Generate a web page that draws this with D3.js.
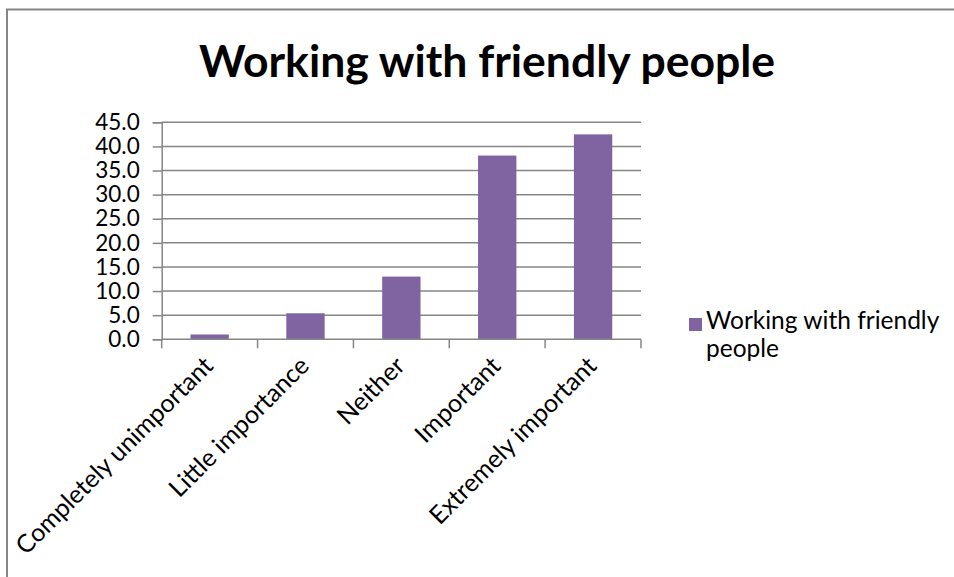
<!DOCTYPE html>
<html>
<head>
<meta charset="utf-8">
<script src="https://cdn.jsdelivr.net/npm/d3@7"></script>
<style>
  html, body { margin: 0; padding: 0; background: #fff; }
  svg { display: block; font-family: Lato, "Open Sans", sans-serif; }
</style>
</head>
<body>
<svg id="chart" width="954" height="577"></svg>
<script>
// Survey result: share of responses (%) per importance rating
const categories = ["Completely unimportant", "Little importance", "Neither", "Important", "Extremely important"];
const values = [1.0, 5.4, 13.0, 38.1, 42.5];
const yTicks = [0, 5, 10, 15, 20, 25, 30, 35, 40, 45];
const seriesName = "Working with friendly people";
const titleText = "Working with friendly people";

const svg = d3.select("#chart");
const barColor = "#8064A2";
const lineColor = "#868686";

// Chart frame
svg.append("path")
  .attr("d", "M7,577 L7,9.5 L954,9.5")
  .attr("fill", "none")
  .attr("stroke", lineColor)
  .attr("stroke-width", 2);

const plot = { left: 161.7, right: 641, top: 122.3, bottom: 339.3 };

const x = d3.scaleBand().domain(categories).range([plot.left, plot.right]).paddingInner(0).paddingOuter(0);
const y = d3.scaleLinear().domain([0, 45]).range([plot.bottom, plot.top]);

// Horizontal gridlines
svg.append("g").selectAll("line").data(yTicks.filter(d => d > 0)).join("line")
  .attr("x1", plot.left).attr("x2", plot.right)
  .attr("y1", d => y(d)).attr("y2", d => y(d))
  .attr("stroke", lineColor).attr("stroke-width", 1.5);

// Bars
const barW = x.bandwidth() * 0.4;
svg.append("g").selectAll("rect").data(values).join("rect")
  .attr("x", (d, i) => x(categories[i]) + (x.bandwidth() - barW) / 2)
  .attr("width", barW)
  .attr("y", d => y(d))
  .attr("height", d => y(0) - y(d))
  .attr("fill", barColor);

// Value axis
const yAxis = d3.axisLeft(y).tickValues(yTicks).tickFormat(d3.format(".1f")).tickSize(9).tickPadding(13);
const gy = svg.append("g").attr("transform", `translate(${plot.left},0)`).call(yAxis);
gy.select(".domain").attr("stroke", lineColor).attr("stroke-width", 1.5);
gy.selectAll(".tick line").attr("stroke", lineColor).attr("stroke-width", 1.5);
gy.selectAll(".tick text").attr("fill", "#000").style("font-size", "22.5px").style("font-family", "Lato, sans-serif");

// Category axis: tick marks sit on the band boundaries
const boundaries = categories.map(c => x(c)).concat([x.range()[1]]);
svg.append("line")
  .attr("x1", plot.left).attr("x2", plot.right)
  .attr("y1", y(0)).attr("y2", y(0))
  .attr("stroke", lineColor).attr("stroke-width", 1.5);
svg.append("g").selectAll("line").data(boundaries).join("line")
  .attr("x1", d => d).attr("x2", d => d)
  .attr("y1", y(0)).attr("y2", y(0) + 9)
  .attr("stroke", lineColor).attr("stroke-width", 1.5);

// Rotated category labels
svg.append("g").selectAll("text").data(categories).join("text")
  .attr("transform", d => `translate(${x(d) + x.bandwidth() / 2 + 5},${y(0) + 28}) rotate(-45)`)
  .attr("text-anchor", "end")
  .style("font-size", "25px")
  .attr("fill", "#000")
  .text(d => d);

// Title
svg.append("text")
  .attr("x", 487).attr("y", 77)
  .attr("text-anchor", "middle")
  .style("font-size", "44.5px")
  .style("font-weight", "bold")
  .attr("fill", "#000")
  .text(titleText);

// Legend
const legend = svg.append("g").attr("transform", "translate(689,318)");
legend.append("rect").attr("width", 13).attr("height", 13).attr("fill", barColor);
const words = seriesName.split(" ");
const lines = [words.slice(0, 3).join(" "), words.slice(3).join(" ")];
legend.append("text")
  .attr("x", 17).attr("y", 11)
  .style("font-size", "24.5px")
  .attr("fill", "#000")
  .selectAll("tspan").data(lines).join("tspan")
  .attr("x", 17)
  .attr("dy", (d, i) => i === 0 ? 0 : 28)
  .text(d => d);
</script>
</body>
</html>
